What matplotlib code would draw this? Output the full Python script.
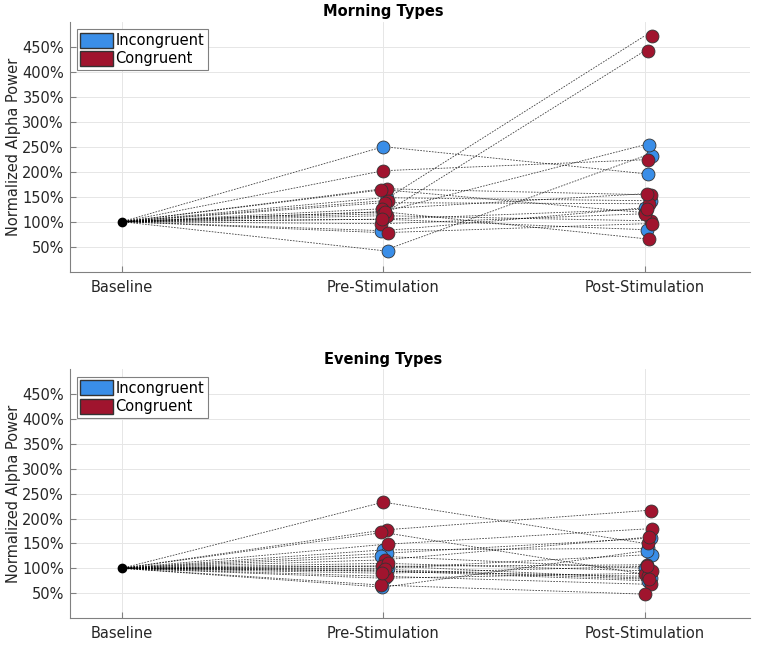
import numpy as np
import matplotlib
matplotlib.use('Agg')
import matplotlib.pyplot as plt
from matplotlib.patches import Patch

# conditions on the x axis
conditions = ['Baseline', 'Pre-Stimulation', 'Post-Stimulation']
yticks = [50, 100, 150, 200, 250, 300, 350, 400, 450]

# Morning types (values in % of baseline)
morning_inc_pre = [250, 148, 82, 42, 120, 105]
morning_inc_post = [196, 142, 128, 232, 254, 84]
morning_con_pre = [202, 166, 164, 142, 138, 126, 116, 112, 96, 78, 120, 105]
morning_con_post = [224, 154, 118, 472, 136, 156, 442, 102, 116, 96, 66, 125]

# Evening types
evening_inc_pre = [137, 130, 124, 100, 80, 62, 95, 105]
evening_inc_post = [140, 160, 100, 127, 90, 135, 75, 80]
evening_con_pre = [233, 177, 172, 148, 117, 104, 94, 84, 66, 110, 98, 90]
evening_con_post = [150, 216, 88, 179, 162, 107, 84, 68, 48, 95, 78, 104]

blue = '#3a8ee8'
red = '#a0142e'

fig = plt.figure(figsize=(7.59, 6.46), dpi=100)
ax1 = fig.add_axes([0.0916, 0.5794, 0.896, 0.387])
ax2 = fig.add_axes([0.0916, 0.0433, 0.896, 0.385])


def draw_panel(ax, title, inc_pre, inc_post, con_pre, con_post):
    groups = [(inc_pre, inc_post, blue), (con_pre, con_post, red)]
    # lines first
    for pre, post, c in groups:
        for a, b in zip(pre, post):
            ax.plot([1, 2, 3], [100, a, b], color='black', lw=0.6,
                    ls=(0, (2, 1.5)), alpha=0.75, zorder=2)
    # points, with a small fixed horizontal spread
    for pre, post, c in groups:
        n = len(pre)
        off = np.tile([0.0, 0.012, -0.008, 0.018, 0.005, -0.004], n)[:n]
        ax.plot(2 + off, pre, 'o', ms=9.3, mfc=c, mec='#333333', mew=0.6, zorder=3)
        ax.plot(3 + off + 0.01, post, 'o', ms=9.3, mfc=c, mec='#333333', mew=0.6, zorder=3)
    ax.plot([1], [100], 'o', ms=6, color='black', zorder=4)

    ax.set_xlim(0.8, 3.4)
    ax.set_ylim(0, 500)
    ax.set_xticks([1, 2, 3])
    ax.set_xticklabels(conditions, fontsize=10.5, color='#262626')
    ax.set_yticks(yticks)
    ax.set_yticklabels([f'{v}%' for v in yticks], fontsize=10.5, color='#262626')
    ax.set_ylabel('Normalized Alpha Power', fontsize=10.5, color='#262626')
    ax.yaxis.set_label_coords(-0.072, 0.5)
    ax.set_title(title, fontsize=10.5, fontweight='bold', x=0.461, pad=4)
    ax.grid(True, color='#e6e6e6', lw=0.7)
    ax.set_axisbelow(True)
    for s in ['top', 'right']:
        ax.spines[s].set_visible(False)
    for s in ['left', 'bottom']:
        ax.spines[s].set_color('#808080')
    ax.tick_params(direction='in', length=4, color='#808080', pad=4)
    ax.tick_params(axis='x', pad=6)

    handles = [Patch(facecolor=blue, edgecolor='#333333', label='Incongruent'),
               Patch(facecolor=red, edgecolor='#333333', label='Congruent')]
    leg = ax.legend(handles=handles, loc='upper left', fontsize=10.5, fancybox=False,
                    edgecolor='#808080', framealpha=1, borderpad=0.25,
                    handlelength=2.2, handleheight=1.2, handletextpad=0.2,
                    labelspacing=0.2, borderaxespad=0.5)
    leg.get_frame().set_linewidth(0.8)


draw_panel(ax1, 'Morning Types', morning_inc_pre, morning_inc_post,
           morning_con_pre, morning_con_post)
draw_panel(ax2, 'Evening Types', evening_inc_pre, evening_inc_post,
           evening_con_pre, evening_con_post)

fig.savefig('out.png', dpi=100)
